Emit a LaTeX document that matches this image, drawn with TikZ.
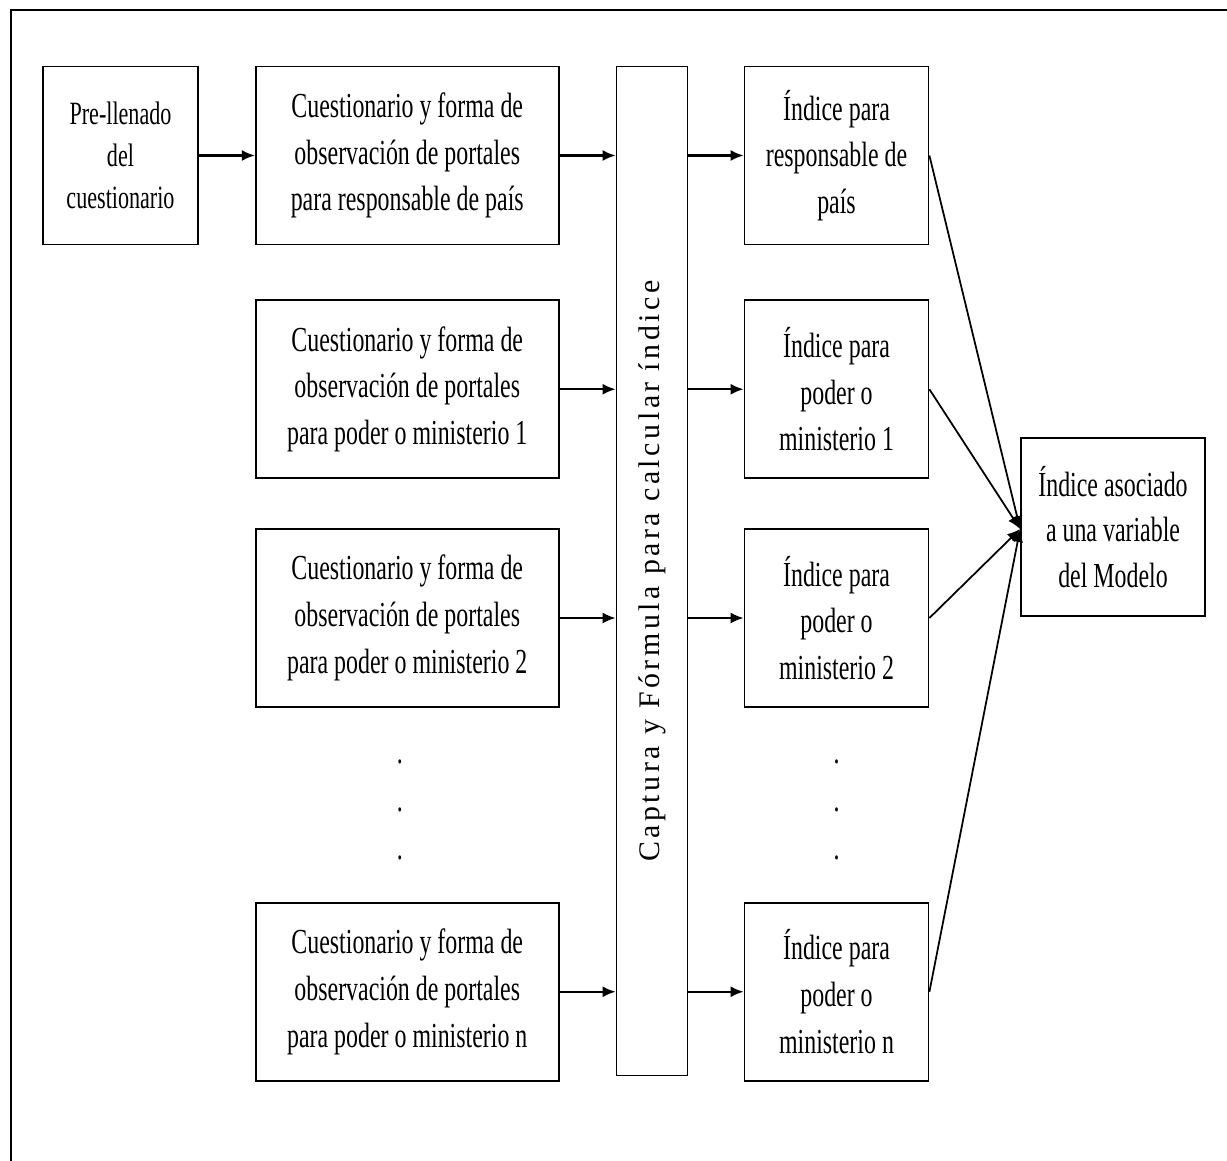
\documentclass[tikz,border=0pt]{standalone}
\usepackage{fontspec}
\setmainfont{Liberation Serif}[FakeStretch=0.68]
\newfontfamily\barfont{Liberation Serif}[LetterSpace=12]
\usetikzlibrary{
  calc,
  positioning,
  arrows,
  arrows.meta
}
\tikzset{
  box/.style={draw,line width=1pt,align=center,minimum height=3.56cm,
    inner sep=2pt,font=\fontsize{20}{26.6}\selectfont},
  qbox/.style={box,minimum width=6.06cm},
  ibox/.style={box,minimum width=3.68cm},
  dotcol/.style={align=center,font=\fontsize{20}{27.2}\selectfont},
  link/.style={-{Latex[length=0.26cm,width=0.22cm]},line width=1.2pt}
}

\begin{document}
\begin{tikzpicture}[node distance = 1cm]
    \clip (0,0) rectangle (24.54,-23.22);
    \draw[line width=0.9pt] (0.22,-0.2) rectangle (26,-25);

    \node[box,minimum width=3.10cm,font=\fontsize{18.5}{24}\selectfont] (1) at (2.41,-3.11) {Pre-llenado\\del\\cuestionario};
    \node[qbox,right = 1.12cm of 1] (2) {Cuestionario y forma de\\observación de portales\\para responsable de país};
    \node[qbox,below = 1.08cm of 2] (3) {Cuestionario y forma de\\observación de portales\\para poder o ministerio 1};
    \node[qbox,below = 0.98cm of 3] (4) {Cuestionario y forma de\\observación de portales\\para poder o ministerio 2};
    \node[qbox,below = 3.88cm of 4] (5) {Cuestionario y forma de\\observación de portales\\para poder o ministerio n};
    \node[draw,line width=1pt,anchor=north west,minimum width=1.42cm,minimum height=20.18cm] (6)
      at ([xshift=1.12cm]2.north east) {};
    \node[rotate=90,font=\barfont\fontsize{17}{20}\selectfont] (6t) at (6) {Captura y Fórmula para calcular índice};
    \node[ibox,right = 3.68cm of 2] (7) {Índice para\\responsable de\\país};
    \node[ibox,right = 3.68cm of 3] (8) {Índice para\\poder o\\ministerio 1};
    \node[ibox,right = 3.68cm of 4] (9) {Índice para\\poder o\\ministerio 2};
    \node[ibox,right = 3.68cm of 5] (10) {Índice para\\poder o\\ministerio n};
    \node[ibox,font=\fontsize{20}{26.1}\selectfont] (11) at (22.26,-10.54) {Índice asociado\\a una variable\\del Modelo};
    \node[dotcol] (12) at ($(4)!0.5!(5)+(-0.15,-0.1)$) {.\\.\\.};
    \node[dotcol] (13) at ($(9)!0.5!(10)+(0,-0.1)$) {.\\.\\.};

    \draw[link] (1) -- (2);
    \foreach \q/\i in {2/7,3/8,4/9,5/10}{
      \draw[link] (\q.east) -- (\q.east -| 6.west);
      \draw[link] (6.east |- \i.west) -- (\i.west);
      \draw[link,line width=1pt] (\i.east) -- ([yshift=-0.04cm]11.west);
    }
  \end{tikzpicture}
\end{document}
